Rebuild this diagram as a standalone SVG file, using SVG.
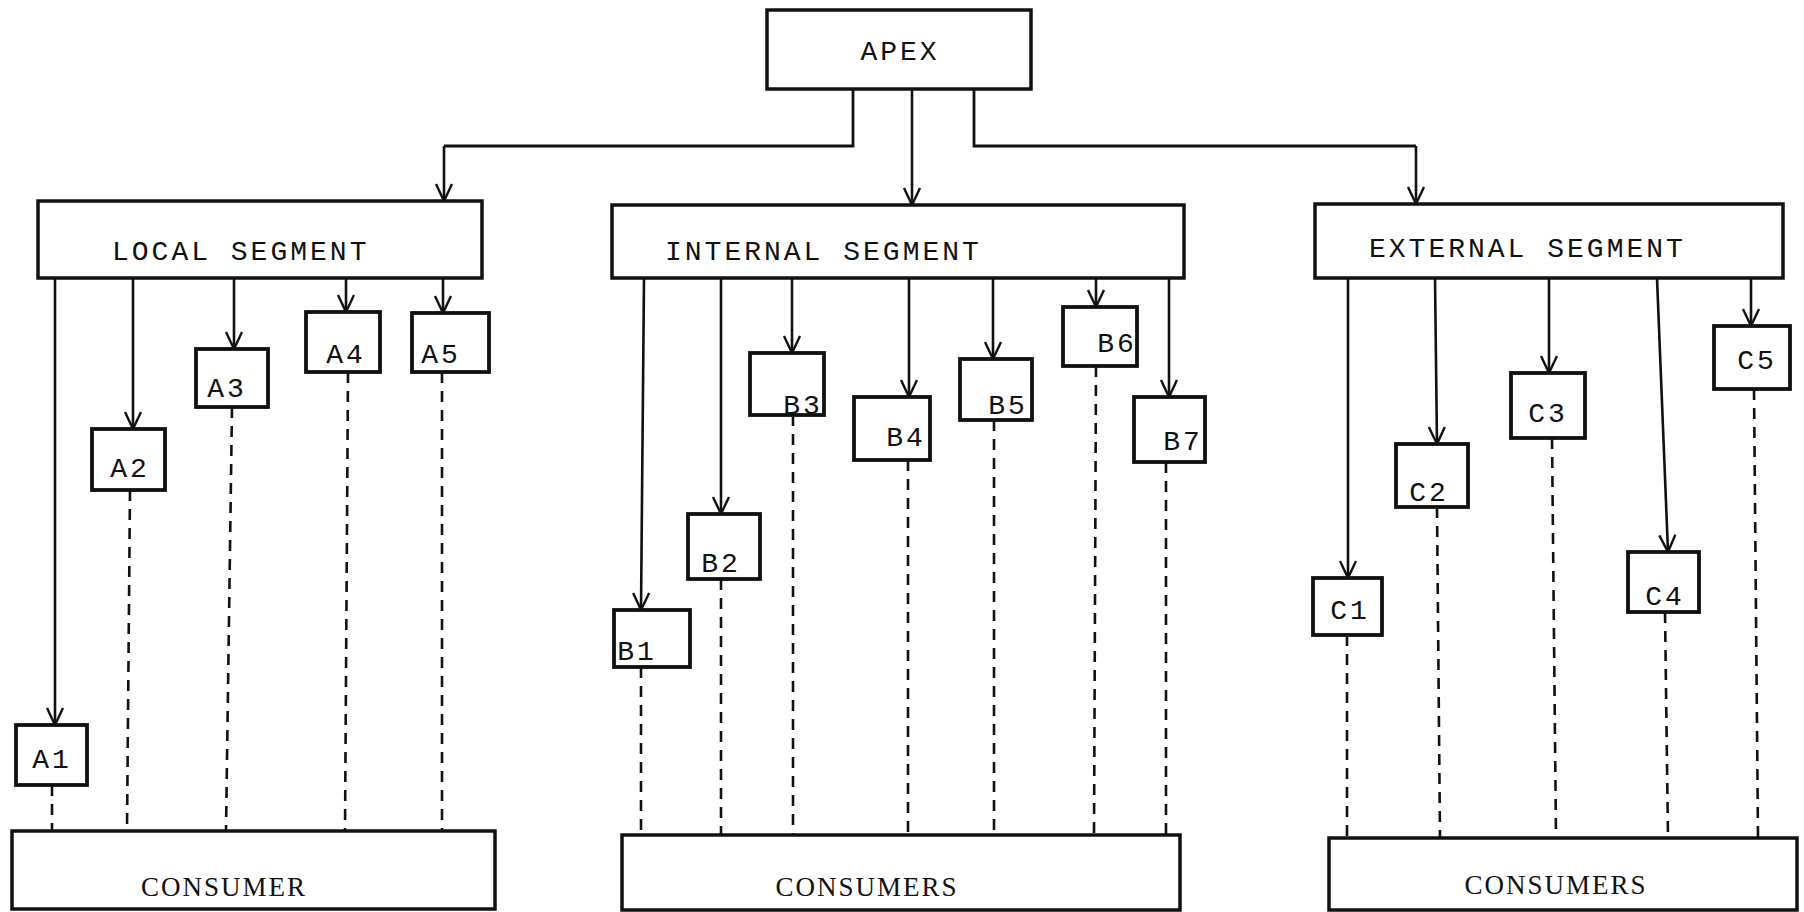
<svg xmlns="http://www.w3.org/2000/svg" width="1804" height="912" viewBox="0 0 1804 912">
<defs>
<style>
.box{fill:#fff;stroke:#111;stroke-width:3.5}
.sm{fill:#fff;stroke:#111;stroke-width:3.8}
.lbl{font-family:"Liberation Mono","DejaVu Sans Mono",monospace;font-size:28px;fill:#111;letter-spacing:3px}
.big{font-family:"Liberation Mono","DejaVu Sans Mono",monospace;font-size:28px;fill:#111;letter-spacing:3px}
.con{font-family:"Liberation Serif","DejaVu Serif",serif;font-size:27px;fill:#111;letter-spacing:2px}
.arr{fill:none;stroke:#111;stroke-width:2.6;marker-end:url(#ah)}
.ln{fill:none;stroke:#111;stroke-width:2.8}
.dash{fill:none;stroke:#111;stroke-width:2.6;stroke-dasharray:11 8}
</style>
<marker id="ah" viewBox="0 0 20 20" refX="18" refY="10" markerWidth="20" markerHeight="20" markerUnits="userSpaceOnUse" orient="auto">
<path d="M1,2 L18,10 L1,18" fill="none" stroke="#111" stroke-width="2.4"/>
</marker>
</defs>
<rect width="1804" height="912" fill="#fff"/>

<g id="connectors">
<path class="ln" d="M853,89 V146 H444"/>
<path class="arr" d="M444,146 V201"/>
<path class="arr" d="M912,89 V205"/>
<path class="ln" d="M974,89 V146 H1416"/>
<path class="arr" d="M1416,146 V204"/>

<path class="arr" d="M55,278 V725"/>
<path class="arr" d="M133,278 V429"/>
<path class="arr" d="M234,278 V349"/>
<path class="arr" d="M346,278 V312"/>
<path class="arr" d="M443,278 V313"/>

<path class="arr" d="M644,278 L641,610"/>
<path class="arr" d="M721,278 V514"/>
<path class="arr" d="M792,278 V353"/>
<path class="arr" d="M909,278 V397"/>
<path class="arr" d="M993,278 V359"/>
<path class="arr" d="M1096,278 V307"/>
<path class="arr" d="M1169,278 V397"/>

<path class="arr" d="M1348,278 V578"/>
<path class="arr" d="M1435,278 L1437,444"/>
<path class="arr" d="M1549,278 V373"/>
<path class="arr" d="M1657,278 L1668,552"/>
<path class="arr" d="M1751,278 V326"/>

<path class="dash" d="M52,785 V831"/>
<path class="dash" d="M130,490 L127,831"/>
<path class="dash" d="M232,407 L226,831"/>
<path class="dash" d="M348,372 L345,831"/>
<path class="dash" d="M442,372 V831"/>

<path class="dash" d="M641,667 V835"/>
<path class="dash" d="M721,579 V835"/>
<path class="dash" d="M793,415 V835"/>
<path class="dash" d="M908,460 V835"/>
<path class="dash" d="M994,420 V835"/>
<path class="dash" d="M1096,366 L1094,835"/>
<path class="dash" d="M1166,462 V835"/>

<path class="dash" d="M1347,635 V838"/>
<path class="dash" d="M1437,507 L1440,838"/>
<path class="dash" d="M1552,438 L1556,838"/>
<path class="dash" d="M1665,612 L1668,838"/>
<path class="dash" d="M1754,389 L1758,838"/>
</g>

<g id="apex"><rect class="box" x="767" y="10" width="264" height="79"/><text class="big" x="900" y="60" text-anchor="middle">APEX</text></g>

<g id="local-segment"><rect class="box" x="38" y="201" width="444" height="77"/><text class="big" x="112" y="260">LOCAL SEGMENT</text></g>
<g id="internal-segment"><rect class="box" x="612" y="205" width="572" height="73"/><text class="big" x="665" y="260">INTERNAL SEGMENT</text></g>
<g id="external-segment"><rect class="box" x="1315" y="204" width="468" height="74"/><text class="big" x="1369" y="257">EXTERNAL SEGMENT</text></g>

<g id="A1"><rect class="sm" x="16" y="725" width="71" height="60"/><text class="lbl" x="52" y="768" text-anchor="middle">A1</text></g>
<g id="A2"><rect class="sm" x="92" y="429" width="73" height="61"/><text class="lbl" x="130" y="477" text-anchor="middle">A2</text></g>
<g id="A3"><rect class="sm" x="196" y="349" width="72" height="58"/><text class="lbl" x="227" y="397" text-anchor="middle">A3</text></g>
<g id="A4"><rect class="sm" x="306" y="312" width="74" height="60"/><text class="lbl" x="346" y="363" text-anchor="middle">A4</text></g>
<g id="A5"><rect class="sm" x="412" y="313" width="77" height="59"/><text class="lbl" x="441" y="363" text-anchor="middle">A5</text></g>

<g id="B1"><rect class="sm" x="614" y="610" width="76" height="57"/><text class="lbl" x="637" y="660" text-anchor="middle">B1</text></g>
<g id="B2"><rect class="sm" x="688" y="514" width="72" height="65"/><text class="lbl" x="721" y="572" text-anchor="middle">B2</text></g>
<g id="B3"><rect class="sm" x="750" y="353" width="74" height="62"/><text class="lbl" x="803" y="414" text-anchor="middle">B3</text></g>
<g id="B4"><rect class="sm" x="854" y="397" width="76" height="63"/><text class="lbl" x="906" y="446" text-anchor="middle">B4</text></g>
<g id="B5"><rect class="sm" x="960" y="359" width="72" height="61"/><text class="lbl" x="1008" y="414" text-anchor="middle">B5</text></g>
<g id="B6"><rect class="sm" x="1063" y="307" width="74" height="59"/><text class="lbl" x="1117" y="352" text-anchor="middle">B6</text></g>
<g id="B7"><rect class="sm" x="1134" y="397" width="71" height="65"/><text class="lbl" x="1183" y="450" text-anchor="middle">B7</text></g>

<g id="C1"><rect class="sm" x="1313" y="578" width="69" height="57"/><text class="lbl" x="1350" y="619" text-anchor="middle">C1</text></g>
<g id="C2"><rect class="sm" x="1396" y="444" width="72" height="63"/><text class="lbl" x="1429" y="501" text-anchor="middle">C2</text></g>
<g id="C3"><rect class="sm" x="1511" y="373" width="74" height="65"/><text class="lbl" x="1548" y="422" text-anchor="middle">C3</text></g>
<g id="C4"><rect class="sm" x="1628" y="552" width="71" height="60"/><text class="lbl" x="1665" y="605" text-anchor="middle">C4</text></g>
<g id="C5"><rect class="sm" x="1714" y="326" width="76" height="63"/><text class="lbl" x="1757" y="369" text-anchor="middle">C5</text></g>

<g id="consumer-local"><rect class="box" x="12" y="831" width="483" height="78"/><text class="con" x="224" y="896" text-anchor="middle">CONSUMER</text></g>
<g id="consumers-internal"><rect class="box" x="622" y="835" width="558" height="75"/><text class="con" x="867" y="896" text-anchor="middle">CONSUMERS</text></g>
<g id="consumers-external"><rect class="box" x="1329" y="838" width="468" height="72"/><text class="con" x="1556" y="894" text-anchor="middle">CONSUMERS</text></g>
</svg>
